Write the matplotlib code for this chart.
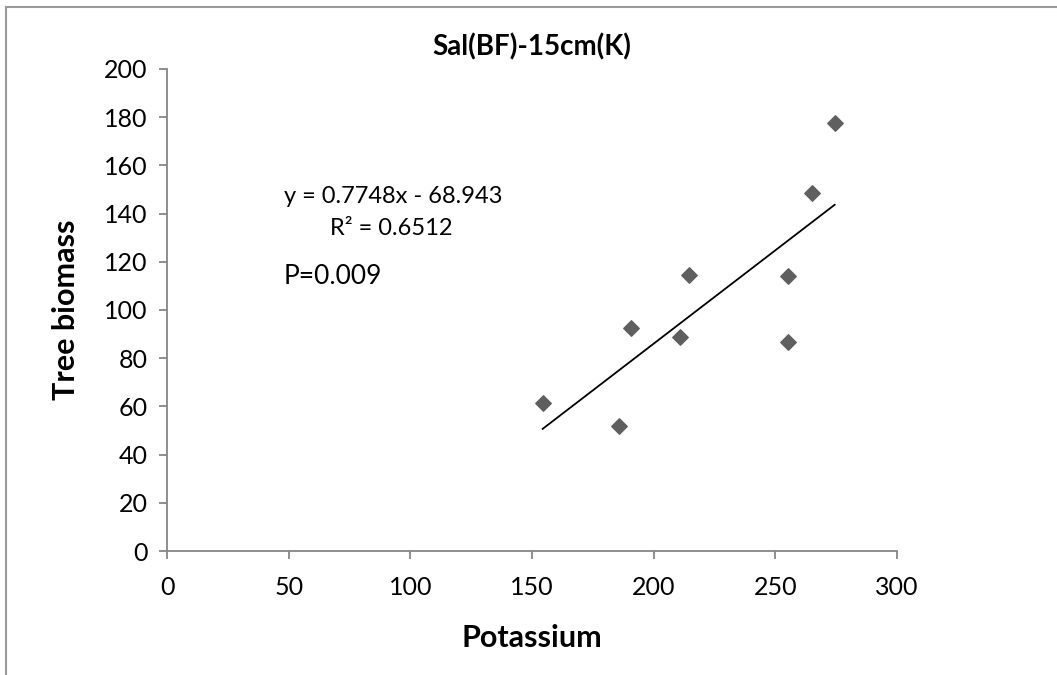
import numpy as np
import matplotlib
matplotlib.use('Agg')
import matplotlib.pyplot as plt
from matplotlib.lines import Line2D

plt.rcParams['font.family'] = ['Lato', 'DejaVu Sans']

# data
potassium = [154.4, 185.9, 190.6, 210.7, 214.4, 255.1, 255.2, 265.1, 274.4]
biomass = [61.3, 51.9, 92.5, 88.7, 114.6, 114.2, 86.7, 148.5, 177.5]
slope = 0.7748
intercept = -68.943
eq_text = 'y = 0.7748x - 68.943'
r2_text = 'R² = 0.6512'
p_text = 'P=0.009'
title = 'Sal(BF)-15cm(K)'

axis_grey = '#868686'

fig = plt.figure(figsize=(10.57, 6.75), dpi=100)
ax = fig.add_axes([0.158, 0.1837, 0.6906, 0.7141])

ax.scatter(potassium, biomass, marker='D', s=62, color='#5f5f5f', zorder=3)
xs = np.array([min(potassium), max(potassium)])
ax.plot(xs, slope * xs + intercept, color='black', lw=1.3, zorder=2)

ax.set_xlim(0, 300)
ax.set_ylim(0, 200)
ax.set_xticks(np.arange(0, 301, 50))
ax.set_yticks(np.arange(0, 201, 20))
for side in ['top', 'right']:
    ax.spines[side].set_visible(False)
for side in ['left', 'bottom']:
    ax.spines[side].set_color(axis_grey)
    ax.spines[side].set_linewidth(1.3)
ax.tick_params(axis='both', colors=axis_grey, labelcolor='black',
               labelsize=18, length=6, width=1.3, direction='out')
ax.tick_params(axis='x', pad=12)
ax.tick_params(axis='y', pad=8)

ax.set_xlabel('Potassium', fontsize=22, fontweight='bold', labelpad=18)
ax.set_ylabel('Tree biomass', fontsize=22, fontweight='bold', labelpad=17)
ax.set_title(title, fontsize=20, fontweight='bold', pad=10)

ax.text(48, 147, eq_text, fontsize=17, ha='left', va='center')
ax.text(67, 134, r2_text, fontsize=17, ha='left', va='center')
ax.text(48, 114, p_text, fontsize=19, ha='left', va='center')

# chart-area border (left and top only visible)
fig.add_artist(Line2D([6 / 1057, 6 / 1057], [0, 1 - 7 / 675],
                      transform=fig.transFigure, color='#9a9a9a', lw=1.5))
fig.add_artist(Line2D([6 / 1057, 1], [1 - 7 / 675, 1 - 7 / 675],
                      transform=fig.transFigure, color='#9a9a9a', lw=1.5))

fig.savefig('out.png', dpi=100)
